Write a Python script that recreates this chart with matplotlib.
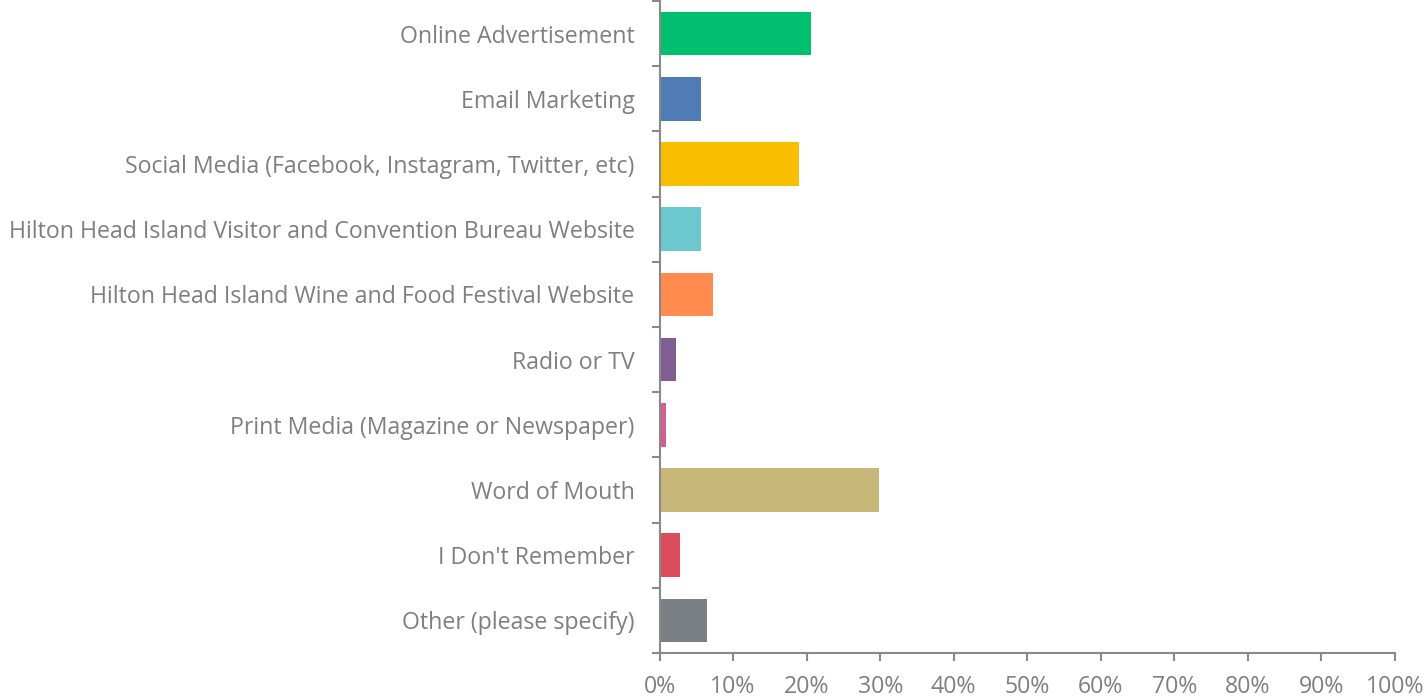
import matplotlib.pyplot as plt
import numpy as np

categorias = [
    'Online Advertisement',
    'Email Marketing',
    'Social Media (Facebook, Instagram, Twitter, etc)',
    'Hilton Head Island Visitor and Convention Bureau Website',
    'Hilton Head Island Wine and Food Festival Website',
    'Radio or TV',
    'Print Media (Magazine or Newspaper)',
    'Word of Mouth',
    "I Don't Remember",
    'Other (please specify)',
]
porcentajes = [20.6, 5.6, 19.0, 5.6, 7.3, 2.2, 0.9, 29.9, 2.8, 6.5]
colores = ['#00BF6F', '#507CB6', '#F9BE00', '#6BC8CD', '#FF8B4F',
           '#7F5F93', '#D25F90', '#C7B879', '#DB4D5C', '#7A8084']
ticks_x = list(range(0, 101, 10))

gris_texto = '#7F7F7F'
gris_eje = '#898989'

plt.rcParams['font.family'] = ['Open Sans', 'DejaVu Sans']

fig = plt.figure(figsize=(14.27, 6.99), dpi=100)
ax = fig.add_axes([0.4622, 0.0658, 0.5154, 0.9328])

y = np.arange(len(categorias))
ax.barh(y, porcentajes, height=0.67, color=colores)

ax.set_xlim(0, 100)
ax.set_ylim(len(categorias) - 0.5, -0.5)

# Etiquetas en el centro de cada barra, marcas en los limites entre categorias
ax.set_yticks(y)
ax.set_yticklabels(categorias)
ax.set_yticks(np.arange(len(categorias) + 1) - 0.5, minor=True)
ax.tick_params(axis='y', which='major', length=0, pad=18, labelsize=16.7, labelcolor=gris_texto)
ax.tick_params(axis='y', which='minor', length=6, width=1.5, color=gris_eje)

ax.set_xticks(ticks_x)
ax.set_xticklabels([f'{t}%' for t in ticks_x])
ax.tick_params(axis='x', length=6, width=1.5, color=gris_eje, pad=10, labelsize=16.7, labelcolor=gris_texto)

for lado in ['top', 'right']:
    ax.spines[lado].set_visible(False)
for lado in ['left', 'bottom']:
    ax.spines[lado].set_color(gris_eje)
    ax.spines[lado].set_linewidth(1.5)

fig.savefig('out.png', dpi=100)
